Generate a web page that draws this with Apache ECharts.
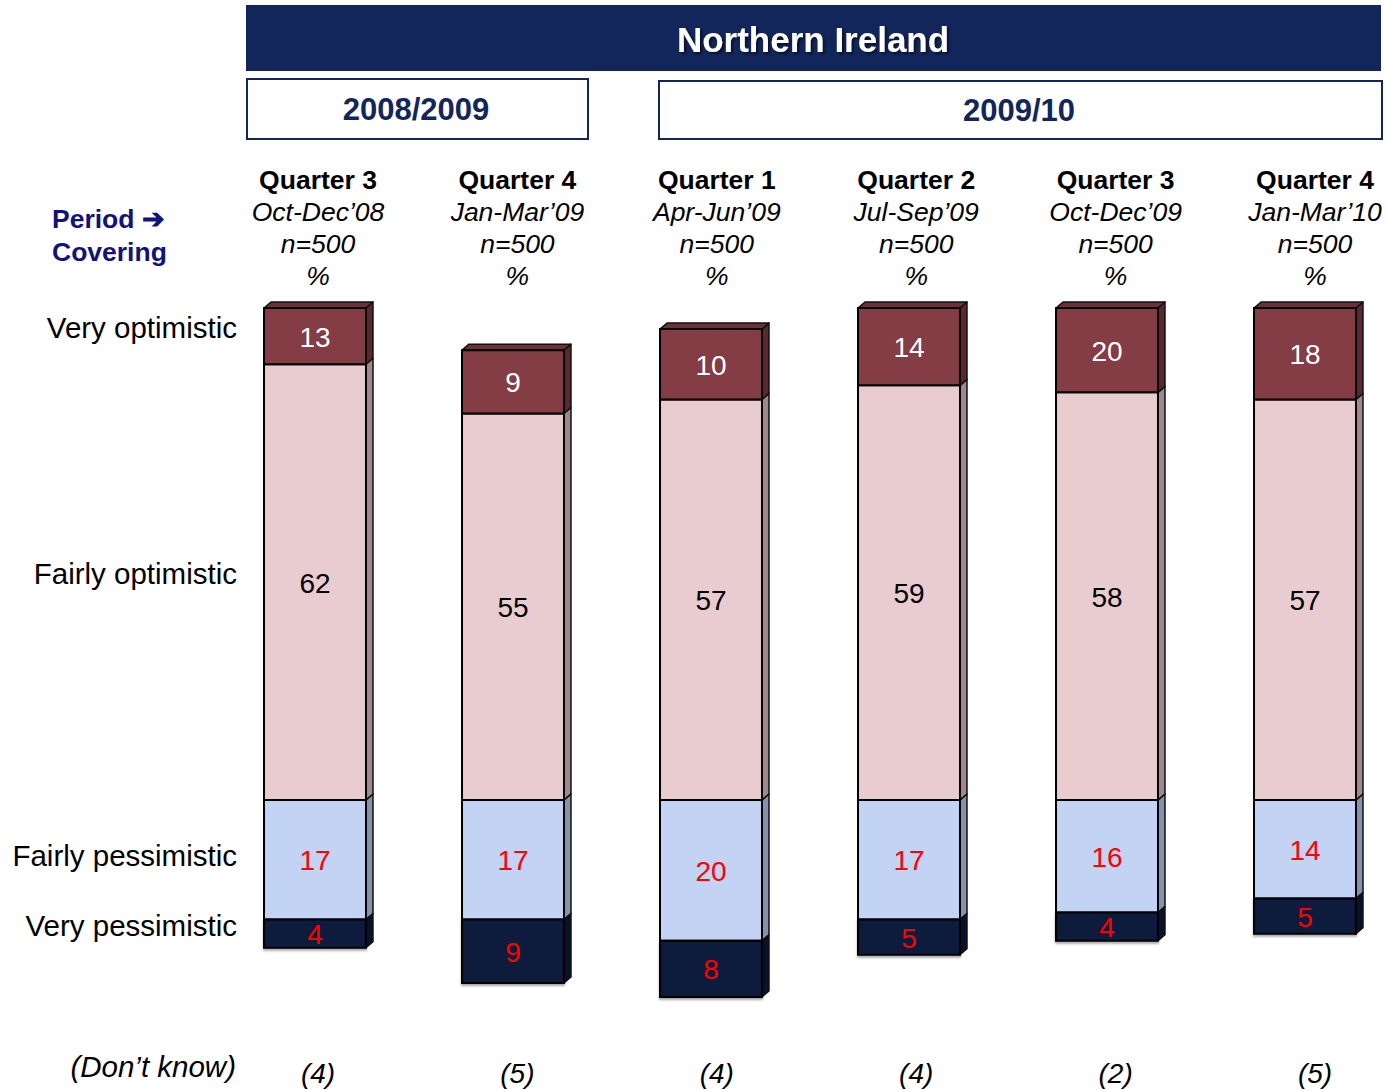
<!DOCTYPE html>
<html>
<head>
<meta charset="utf-8">
<title>Northern Ireland – optimism by quarter</title>
<script src="https://cdn.jsdelivr.net/npm/echarts@6/dist/echarts.min.js"></script>
<style>
  html, body { margin: 0; padding: 0; background: #fff; }
  #chart { width: 1387px; height: 1091px; }
</style>
</head>
<body>
<div id="chart"></div>
<script>
// ---- data ----
const quarterNames = ['Quarter 3', 'Quarter 4', 'Quarter 1', 'Quarter 2', 'Quarter 3', 'Quarter 4'];
const periods = ['Oct-Dec\u201908', 'Jan-Mar\u201909', 'Apr-Jun\u201909', 'Jul-Sep\u201909', 'Oct-Dec\u201909', 'Jan-Mar\u201910'];
const sampleSizes = [500, 500, 500, 500, 500, 500];
const veryOptimistic = [13, 9, 10, 14, 20, 18];
const fairlyOptimistic = [62, 55, 57, 59, 58, 57];
const fairlyPessimistic = [17, 17, 20, 17, 16, 14];
const veryPessimistic = [4, 9, 8, 5, 4, 5];
const dontKnow = [4, 5, 4, 4, 2, 5];
const seriesNames = ['Very optimistic', 'Fairly optimistic', 'Fairly pessimistic', 'Very pessimistic'];
const yearGroups = ['2008/2009', '2009/10'];
const titleText = 'Northern Ireland';

// ---- look ----
const FONT = '"Liberation Sans", Arial, Helvetica, sans-serif';
const NAVY = '#13265C';
const DEPTH_X = 7, DEPTH_Y = 6;

function fontAvailable(name) {
  const ctx = document.createElement('canvas').getContext('2d');
  ctx.font = '40px monospace';
  const base = ctx.measureText(titleText).width;
  ctx.font = '40px "' + name + '", monospace';
  return ctx.measureText(titleText).width !== base;
}
const narrow = fontAvailable('Liberation Sans Narrow');
const titleFont = narrow
  ? { fontFamily: '"Liberation Sans Narrow", ' + FONT, fontSize: 42 }
  : { fontFamily: FONT, fontSize: 35 };

const segStyles = {
  veryOpt:  { front: '#843C45', side: '#5B2830', top: '#6C3039', label: '#FFFFFF' },
  fairOpt:  { front: '#E8CCD0', side: '#9F898C', top: '#C9B0B4', label: '#000000' },
  fairPess: { front: '#C3D3F3', side: '#8592AE', top: '#A4B2D0', label: '#FF0000' },
  veryPess: { front: '#0D1A3D', side: '#08122C', top: '#0A1533', label: '#FF0000' }
};

// value range [lo, hi] of a segment for category i
function segRange(kind, i) {
  switch (kind) {
    case 'fairOpt':  return [0, fairlyOptimistic[i]];
    case 'veryOpt':  return [fairlyOptimistic[i], fairlyOptimistic[i] + veryOptimistic[i]];
    case 'fairPess': return [-fairlyPessimistic[i], 0];
    case 'veryPess': return [-fairlyPessimistic[i] - veryPessimistic[i], -fairlyPessimistic[i]];
  }
}

function boxRenderer(kind, isTop) {
  const st = segStyles[kind];
  return function (params, api) {
    const i = api.value(0);
    const label = api.value(1);
    const r = segRange(kind, i);
    const cs = params.coordSys;
    const pLo = api.coord([i, r[0]]);
    const pHi = api.coord([i, r[1]]);
    const w = api.size([1, 0])[0] * 0.515;
    const x = pLo[0] - w / 2;
    let yTop = Math.max(Math.min(pLo[1], pHi[1]), cs.y);
    let yBot = Math.min(Math.max(pLo[1], pHi[1]), cs.y + cs.height);
    const children = [];
    // right-hand side face
    children.push({
      type: 'polygon',
      shape: { points: [[x + w, yTop], [x + w + DEPTH_X, yTop - DEPTH_Y], [x + w + DEPTH_X, yBot - DEPTH_Y], [x + w, yBot]] },
      style: { fill: st.side, stroke: '#111', lineWidth: 1.5, lineJoin: 'round' }
    });
    if (isTop) {
      children.push({
        type: 'polygon',
        shape: { points: [[x, yTop], [x + DEPTH_X, yTop - DEPTH_Y], [x + w + DEPTH_X, yTop - DEPTH_Y], [x + w, yTop]] },
        style: { fill: st.top, stroke: '#111', lineWidth: 1.5, lineJoin: 'round' }
      });
    }
    const front = {
      type: 'rect',
      shape: { x: x, y: yTop, width: w, height: yBot - yTop },
      style: { fill: st.front, stroke: '#000', lineWidth: 2 }
    };
    if (kind === 'veryPess') {
      front.style.shadowColor = 'rgba(0,0,0,0.35)';
      front.style.shadowBlur = 2;
      front.style.shadowOffsetY = 2;
    }
    children.push(front);
    children.push({
      type: 'text',
      style: {
        text: String(label), x: x + w / 2, y: (yTop + yBot) / 2 + 1,
        align: 'center', verticalAlign: 'middle',
        fill: st.label, fontSize: 28, fontFamily: FONT
      }
    });
    return { type: 'group', children: children };
  };
}

function seriesFor(kind, values, name, isTop) {
  return {
    type: 'custom',
    name: name,
    xAxisIndex: 0,
    yAxisIndex: 0,
    renderItem: boxRenderer(kind, isTop),
    encode: { x: 0, y: 1 },
    data: values.map((v, i) => [i, v]),
    silent: true
  };
}

const chart = echarts.init(document.getElementById('chart'), null, { renderer: 'svg' });

const leftLabels = [
  { text: seriesNames[0], y: 327 },
  { text: seriesNames[1], y: 573 },
  { text: seriesNames[2], y: 855 },
  { text: seriesNames[3], y: 925 }
];

const graphics = [
  // banner
  { type: 'rect', left: 246, top: 5, shape: { width: 1135, height: 66 }, style: { fill: NAVY }, z: 1 },
  {
    type: 'text', x: 813, y: 39, z: 2,
    style: {
      text: titleText, align: 'center', verticalAlign: 'middle', fill: '#FFFFFF',
      fontWeight: 'bold', fontSize: titleFont.fontSize, fontFamily: titleFont.fontFamily,
      textShadowColor: 'rgba(0,0,0,0.6)', textShadowBlur: 3, textShadowOffsetX: 2, textShadowOffsetY: 2
    }
  },
  // year group boxes
  { type: 'rect', left: 246, top: 78, shape: { width: 341, height: 60 }, style: { fill: '#fff', stroke: NAVY, lineWidth: 2 }, z: 1 },
  { type: 'text', x: 416, y: 109, z: 2, style: { text: yearGroups[0], align: 'center', verticalAlign: 'middle', fill: NAVY, fontWeight: 'bold', fontSize: 31, fontFamily: FONT } },
  { type: 'rect', left: 658, top: 80, shape: { width: 723, height: 58 }, style: { fill: '#fff', stroke: NAVY, lineWidth: 2 }, z: 1 },
  { type: 'text', x: 1019, y: 110, z: 2, style: { text: yearGroups[1], align: 'center', verticalAlign: 'middle', fill: NAVY, fontWeight: 'bold', fontSize: 31, fontFamily: FONT } },
  // period covering note
  { type: 'text', x: 52, y: 219, style: { text: 'Period \u2794', align: 'left', verticalAlign: 'middle', fill: '#12127A', fontWeight: 'bold', fontSize: 26.5, fontFamily: FONT } },
  { type: 'text', x: 52, y: 252, style: { text: 'Covering', align: 'left', verticalAlign: 'middle', fill: '#12127A', fontWeight: 'bold', fontSize: 26.5, fontFamily: FONT } },
  // don't know row label
  { type: 'text', x: 236, y: 1066, style: { text: '(Don\u2019t know)', align: 'right', verticalAlign: 'middle', fill: '#000', fontStyle: 'italic', fontSize: 29.5, fontFamily: FONT } }
].concat(leftLabels.map(l => ({
  type: 'text', x: 237, y: l.y,
  style: { text: l.text, align: 'right', verticalAlign: 'middle', fill: '#000', fontSize: 29.5, fontFamily: FONT }
})));

const hiddenAxisParts = { axisLine: { show: false }, axisTick: { show: false }, splitLine: { show: false } };

chart.setOption({
  animation: false,
  backgroundColor: '#fff',
  grid: [
    // bars
    { left: 315, right: 82, top: 308, bottom: 80, containLabel: false },
    // column headings and "don't know" row
    { left: 318, right: 72, top: 308, bottom: 80, containLabel: false }
  ],
  xAxis: [
    Object.assign({
      type: 'category', gridIndex: 0, data: periods, boundaryGap: false,
      axisLabel: { show: false }
    }, hiddenAxisParts),
    Object.assign({
      type: 'category', gridIndex: 1, position: 'top', data: periods, boundaryGap: false,
      axisLabel: {
        interval: 0, margin: 16, color: '#000', fontFamily: FONT,
        formatter: function (value, index) {
          return '{q|' + quarterNames[index] + '}\n{d|' + periods[index] + '}\n{d|n=' + sampleSizes[index] + '}\n{d|%}';
        },
        rich: {
          q: { fontWeight: 'bold', fontSize: 26.5, lineHeight: 32, fontFamily: FONT, color: '#000' },
          d: { fontStyle: 'italic', fontSize: 26.5, lineHeight: 32, fontFamily: FONT, color: '#000' }
        }
      }
    }, hiddenAxisParts),
    Object.assign({
      type: 'category', gridIndex: 1, position: 'bottom', data: dontKnow.map(v => '(' + v + ')'), boundaryGap: false,
      axisLabel: { interval: 0, margin: 48, color: '#000', fontStyle: 'italic', fontSize: 28, fontFamily: FONT }
    }, hiddenAxisParts)
  ],
  yAxis: [
    Object.assign({ type: 'value', gridIndex: 0, min: -30, max: 70, interval: 10, axisLabel: { show: false } }, hiddenAxisParts),
    Object.assign({ type: 'value', gridIndex: 1, min: -30, max: 70, interval: 10, axisLabel: { show: false } }, hiddenAxisParts)
  ],
  graphic: graphics,
  series: [
    seriesFor('fairOpt', fairlyOptimistic, seriesNames[1], false),
    seriesFor('veryOpt', veryOptimistic, seriesNames[0], true),
    seriesFor('fairPess', fairlyPessimistic, seriesNames[2], false),
    seriesFor('veryPess', veryPessimistic, seriesNames[3], false)
  ]
});
</script>
</body>
</html>
